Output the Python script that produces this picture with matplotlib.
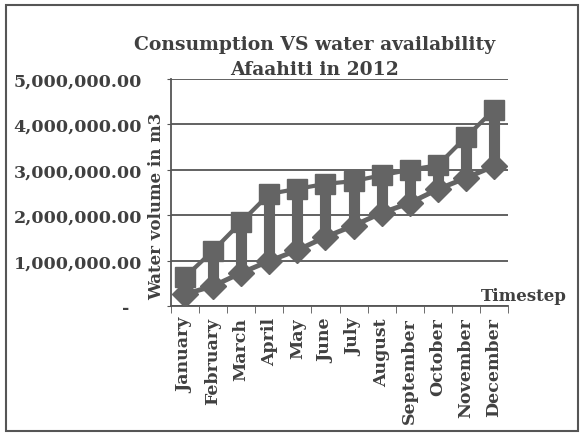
import matplotlib
matplotlib.use("Agg")
import matplotlib.pyplot as plt
from matplotlib.patches import Rectangle
from matplotlib.ticker import FuncFormatter

months = ["January", "February", "March", "April", "May", "June", "July",
          "August", "September", "October", "November", "December"]
availability = [640000, 1220000, 1850000, 2470000, 2580000, 2690000, 2750000,
                2880000, 3000000, 3100000, 3720000, 4320000]
consumption = [260000, 440000, 730000, 990000, 1230000, 1520000, 1770000,
               2050000, 2270000, 2570000, 2820000, 3080000]
yticks = [0, 1000000, 2000000, 3000000, 4000000, 5000000]

INK = "#404040"
MARK = "#646464"
plt.rcParams["font.family"] = ["DejaVu Serif"]
plt.rcParams["font.weight"] = "bold"

fig = plt.figure(figsize=(5.83, 4.39), dpi=100, facecolor="white")
ax = fig.add_axes([171/583, 1-307/439, (508-171)/583, (307-80)/439])
fig.patches.append(Rectangle((6/583, 7/439), 572/583, 426/439, transform=fig.transFigure,
                             fill=False, edgecolor="#555555", lw=1.5))

x = list(range(len(months)))
ax.vlines(x, consumption, availability, color=MARK, lw=8, zorder=2)
ax.plot(x, availability, color=MARK, lw=3, marker="s", ms=15, zorder=3)
ax.plot(x, consumption, color=MARK, lw=3.5, marker="D", ms=13, zorder=3)

ax.set_xlim(-0.5, len(months) - 0.5)
ax.set_ylim(0, 5000000)
ax.set_yticks(yticks)
ax.yaxis.set_major_formatter(FuncFormatter(lambda v, p: "-  " if v == 0 else f"{v:,.2f}"))
ax.grid(axis="y", color="#555555", lw=1.3)
ax.set_axisbelow(True)
for s in ("top", "right"):
    ax.spines[s].set_visible(False)
for s in ("left", "bottom"):
    ax.spines[s].set_color("#555555")
    ax.spines[s].set_linewidth(1.3)

ax.set_xticks(x)
ax.set_xticklabels(months, rotation=90, fontsize=12.5, color=INK, fontweight="bold")
ax.set_xticks([i - 0.5 for i in range(len(months) + 1)], minor=True)
ax.tick_params(axis="x", which="major", length=0, pad=8)
ax.tick_params(axis="x", which="minor", length=5, color="#555555", direction="out")
ax.tick_params(axis="y", length=3, color="#555555", pad=18, labelsize=12.6, labelcolor=INK)
for t in ax.get_yticklabels():
    t.set_fontweight("bold")

fig.text(157/583, 1-206/439, "Water volume in m3", rotation=90, ha="center", va="center",
         fontsize=12, color=INK, fontweight="bold")
fig.text(524/583, 1-297/439, "Timestep", ha="center", va="center",
         fontsize=12, color=INK, fontweight="bold")
fig.text(315/583, 1-45/439, "Consumption VS water availability", ha="center", va="center",
         fontsize=13.5, color=INK, fontweight="bold")
fig.text(315/583, 1-70/439, "Afaahiti in 2012", ha="center", va="center",
         fontsize=13.5, color=INK, fontweight="bold")

fig.savefig("out.png", dpi=100, facecolor="white")
